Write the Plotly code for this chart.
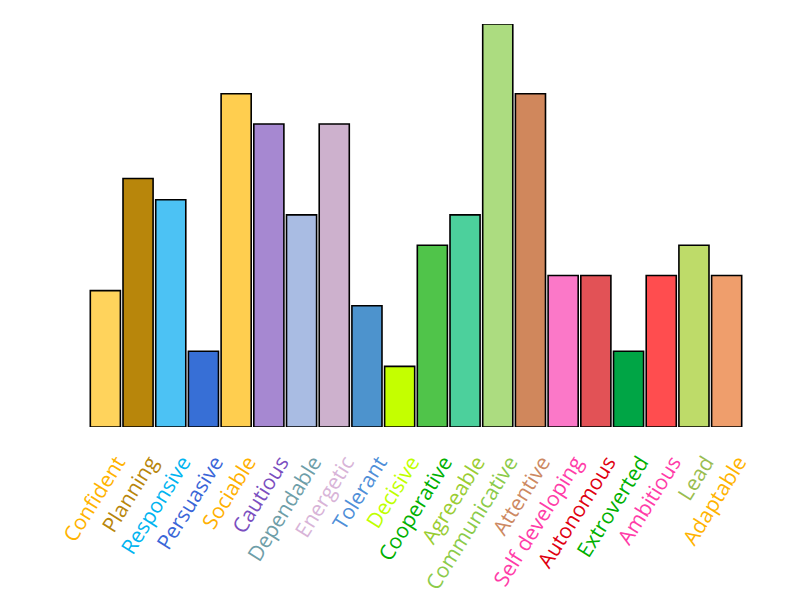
import plotly.graph_objects as go

categories = ["Confident", "Planning", "Responsive", "Persuasive", "Sociable", "Cautious",
              "Dependable", "Energetic", "Tolerant", "Decisive", "Cooperative", "Agreeable",
              "Communicative", "Attentive", "Self developing", "Autonomous", "Extroverted",
              "Ambitious", "Lead", "Adaptable"]
values = [9, 16.4, 15, 5, 22, 20, 14, 20, 8, 4, 12, 14, 26.6, 22, 10, 10, 5, 10, 12, 10]
bar_colors = ["#FFD35C", "#B8860B", "#4CC2F4", "#376FD6", "#FFCE4F", "#A688D1",
              "#A9BCE3", "#CDB1CD", "#4D93CD", "#C4FF00", "#50C44A", "#4CD09C",
              "#ACDC80", "#D0875C", "#FB78C8", "#E25256", "#00A545", "#FF4D4F",
              "#BEDB69", "#EF9E6C"]
label_colors = ["#FFB300", "#B8860B", "#00B4F0", "#3A66D8", "#FFB000", "#7B4FC0",
                "#6E9EA8", "#D8B4D8", "#4F8FD8", "#BFFF00", "#00B000", "#9ACD32",
                "#8BCB4A", "#CD8962", "#FF3CA8", "#E00010", "#00B000", "#FF3CA8",
                "#9ABD50", "#FFB300"]

positions = list(range(len(categories)))
label_offset = 0.36

fig = go.Figure(go.Bar(
    x=positions, y=values, text=categories, hoverinfo="text+y", textposition="none",
    marker=dict(color=bar_colors, line=dict(color="black", width=1.6)),
))

ticktext = [f'<span style="color:{c}">{t}</span>' for t, c in zip(categories, label_colors)]

fig.update_layout(
    width=811, height=609,
    margin=dict(l=81, r=76, t=16, b=190, autoexpand=False),
    paper_bgcolor="white", plot_bgcolor="white",
    bargap=0.08,
    showlegend=False,
    font=dict(family="Open Sans", size=21),
    xaxis=dict(tickmode="array", tickvals=[p + label_offset for p in positions],
               ticktext=ticktext, range=[-0.5, len(categories) - 0.5],
               tickangle=-58, showgrid=False, zeroline=False, showline=False,
               ticks="", ticklabelstandoff=18, automargin=False),
    yaxis=dict(range=[0, 26.6], visible=False, showgrid=False),
)

fig.write_html("out.html")
